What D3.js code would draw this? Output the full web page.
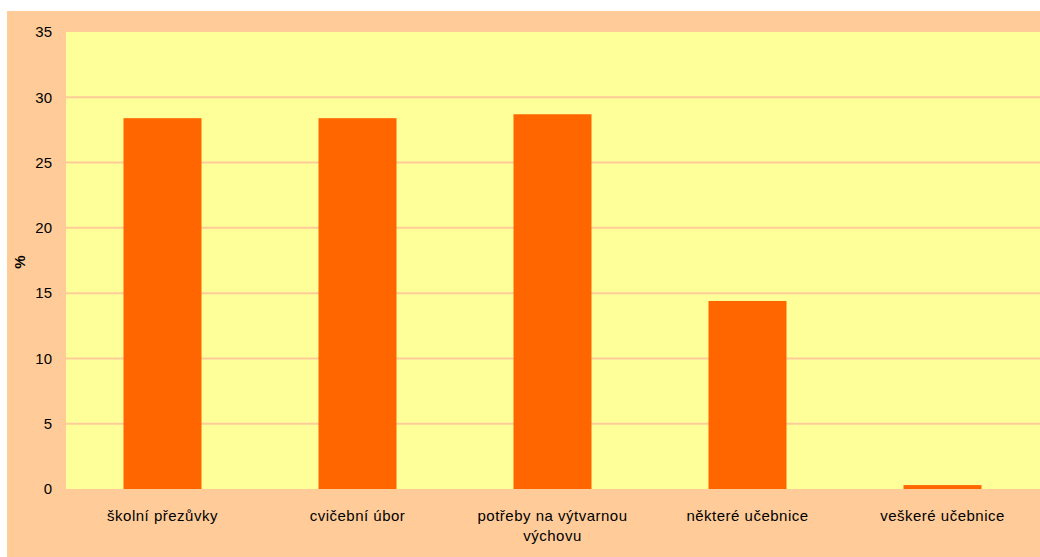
<!DOCTYPE html>
<html>
<head>
<meta charset="utf-8">
<script src="https://cdn.jsdelivr.net/npm/d3@7"></script>
<style>
  body { margin: 0; background: #ffffff; }
  svg { display: block; font-family: "Liberation Sans", Arial, sans-serif; }
</style>
</head>
<body>
<div id="chart"></div>
<script>
// Data
const categories = [
  "školní přezůvky",
  "cvičební úbor",
  "potřeby na výtvarnou výchovu",
  "některé učebnice",
  "veškeré učebnice",
];
const values = [28.4, 28.4, 28.7, 14.4, 0.3];
const yTicks = [0, 5, 10, 15, 20, 25, 30, 35];
const yLabel = "%";

const WIDTH = 1040;
const HEIGHT = 557;
const margin = { top: 32, right: 0, bottom: 68, left: 65 };

const COLORS = {
  outer: "#FFCC99",
  plot: "#FFFF99",
  grid: "#FFCC99",
  bar: "#FF6600",
  text: "#000000",
};

const svg = d3
  .select("#chart")
  .append("svg")
  .attr("width", WIDTH)
  .attr("height", HEIGHT);

// Outer chart area
svg
  .append("rect")
  .attr("x", 7)
  .attr("y", 11)
  .attr("width", WIDTH - 7)
  .attr("height", HEIGHT - 11)
  .attr("fill", COLORS.outer);

const innerW = WIDTH - margin.left - margin.right;
const innerH = HEIGHT - margin.top - margin.bottom;

const g = svg
  .append("g")
  .attr("transform", `translate(${margin.left},${margin.top})`);

const x = d3
  .scaleBand()
  .domain(categories)
  .range([0, innerW])
  .paddingInner(0.6)
  .paddingOuter(0.3);

const y = d3.scaleLinear().domain([0, 35]).range([innerH, 0]);

// Plot area
g.append("rect")
  .attr("x", 1)
  .attr("width", innerW)
  .attr("height", innerH)
  .attr("fill", COLORS.plot);

// Gridlines
g.append("g")
  .selectAll("line")
  .data(yTicks.filter((t) => t > 0 && t < 35))
  .join("line")
  .attr("x1", 1)
  .attr("x2", innerW)
  .attr("y1", (d) => y(d))
  .attr("y2", (d) => y(d))
  .attr("stroke", COLORS.grid)
  .attr("stroke-width", 2);

// Bars
g.append("g")
  .selectAll("rect")
  .data(values)
  .join("rect")
  .attr("x", (d, i) => x(categories[i]))
  .attr("y", (d) => y(d))
  .attr("width", x.bandwidth())
  .attr("height", (d) => y(0) - y(d))
  .attr("fill", COLORS.bar);

// Y axis
const yAxis = g
  .append("g")
  .call(d3.axisLeft(y).tickValues(yTicks).tickSize(0).tickPadding(13));
yAxis.select(".domain").remove();
yAxis
  .selectAll("text")
  .attr("fill", COLORS.text)
  .style("font-size", "15px")
  .style("font-family", "Liberation Sans, Arial, sans-serif");

// X axis with wrapped labels
const xAxis = g
  .append("g")
  .attr("transform", `translate(0,${innerH})`)
  .call(d3.axisBottom(x).tickSize(0).tickPadding(0).tickFormat(""));
xAxis.select(".domain").remove();

xAxis
  .selectAll(".tick")
  .append("text")
  .attr("fill", COLORS.text)
  .attr("text-anchor", "middle")
  .style("font-size", "15px")
  .style("letter-spacing", "0.5px")
  .each(function (d) {
    const lines = d === "potřeby na výtvarnou výchovu"
      ? ["potřeby na výtvarnou", "výchovu"]
      : [d];
    const t = d3.select(this);
    lines.forEach((line, i) => {
      t.append("tspan")
        .attr("x", 0)
        .attr("y", 32 + i * 20)
        .text(line);
    });
  });

// Y axis title
svg
  .append("text")
  .attr("transform", "translate(25,262) rotate(-90)")
  .attr("text-anchor", "middle")
  .attr("fill", COLORS.text)
  .style("font-size", "15px")
  .style("font-weight", "bold")
  .text(yLabel);
</script>
</body>
</html>
